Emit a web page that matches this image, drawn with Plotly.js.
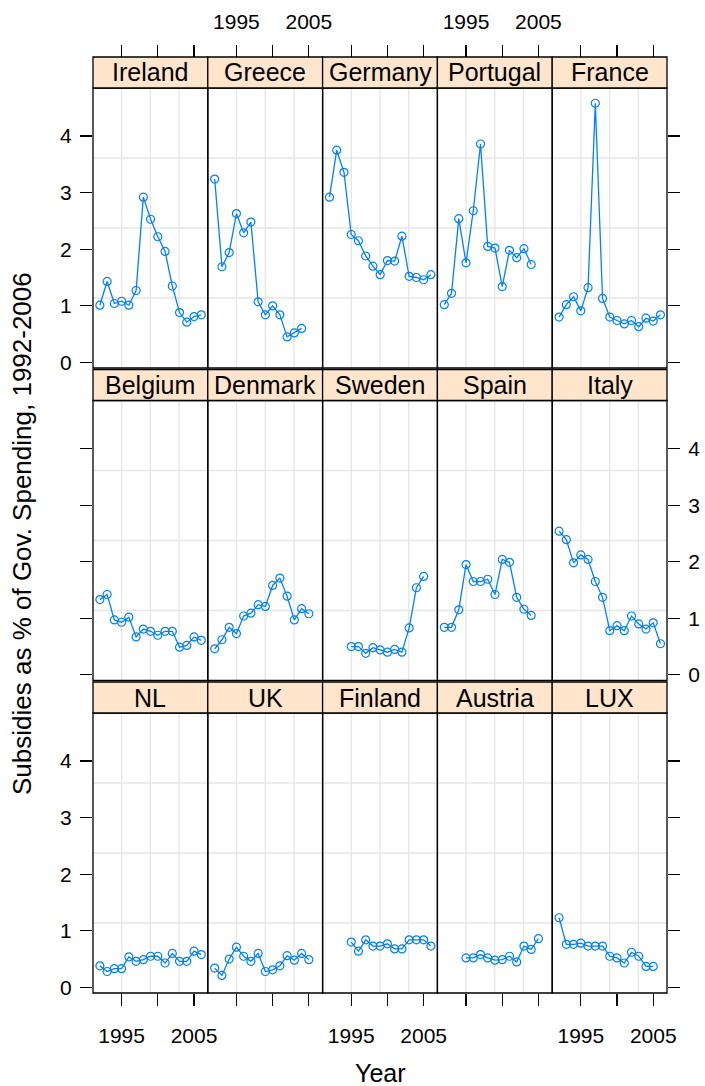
<!DOCTYPE html>
<html><head><meta charset="utf-8">
<script src="https://cdn.plot.ly/plotly-3.0.1.min.js"></script>
<style>html,body{margin:0;padding:0;background:#fff}#chart{width:705px;height:1086px}</style>
</head><body><div id="chart"></div>
<script>
// ---- data ----
const years = [1992,1993,1994,1995,1996,1997,1998,1999,2000,2001,2002,2003,2004,2005,2006];
const countries = ["Ireland","Greece","Germany","Portugal","France",
                   "Belgium","Denmark","Sweden","Spain","Italy",
                   "NL","UK","Finland","Austria","LUX"];
const ireland  = [1.01,1.43,1.04,1.08,1.01,1.27,2.92,2.53,2.22,1.96,1.35,0.88,0.71,0.81,0.84];
const greece   = [3.24,1.69,1.94,2.63,2.29,2.48,1.07,0.84,1.00,0.84,0.45,0.52,0.60,null,null];
const germany  = [2.92,3.75,3.36,2.26,2.15,1.88,1.70,1.55,1.80,1.79,2.23,1.52,1.50,1.46,1.55];
const portugal = [1.02,1.22,2.54,1.76,2.68,3.86,2.05,2.02,1.34,1.98,1.85,2.01,1.73,null,null];
const france   = [0.80,1.02,1.16,0.91,1.32,4.58,1.13,0.80,0.74,0.68,0.74,0.63,0.78,0.73,0.84];
const belgium  = [1.33,1.42,0.97,0.93,1.02,0.67,0.81,0.77,0.70,0.77,0.77,0.49,0.52,0.67,0.61];
const denmark  = [0.46,0.62,0.84,0.73,1.04,1.09,1.24,1.21,1.58,1.71,1.39,0.97,1.17,1.08,null];
const sweden   = [null,null,null,0.50,0.50,0.38,0.48,0.44,0.40,0.45,0.40,0.83,1.54,1.74,null];
const spain    = [0.84,0.84,1.15,1.95,1.65,1.65,1.69,1.42,2.04,1.99,1.37,1.16,1.05,null,null];
const italy    = [2.54,2.39,1.98,2.12,2.04,1.65,1.37,0.78,0.87,0.78,1.04,0.90,0.81,0.92,0.55];
const nl       = [0.38,0.28,0.33,0.33,0.54,0.46,0.49,0.55,0.55,0.43,0.60,0.46,0.46,0.64,0.58];
const uk       = [0.34,0.21,0.50,0.71,0.55,0.46,0.60,0.28,0.31,0.38,0.56,0.48,0.60,0.49,null];
const finland  = [null,null,null,0.80,0.64,0.84,0.73,0.73,0.77,0.68,0.68,0.84,0.84,0.84,0.73];
const austria  = [null,null,null,0.52,0.52,0.58,0.52,0.48,0.49,0.55,0.45,0.73,0.67,0.86,null];
const lux      = [1.23,0.76,0.76,0.78,0.73,0.73,0.73,0.55,0.52,0.43,0.62,0.55,0.37,0.37,null];
const xTickVals = [1995, 2000, 2005];
const xTickText = ["1995", "", "2005"];
const yTickVals = [0, 1, 2, 3, 4];
const yTickText = ["0", "1", "2", "3", "4"];
const xTitle = "Year";
const yTitle = "Subsidies as % of Gov. Spending, 1992-2006";

const series = [ireland, greece, germany, portugal, france,
                belgium, denmark, sweden, spain, italy,
                nl, uk, finland, austria, lux];

// ---- layout geometry ----
const W = 705, H = 1086;
const colLeft = 93, colW = 114.8;
const stripTops = [57, 369.5, 682], stripH = 31, panelH = 280;
const FONT = "Liberation Sans, Arial, sans-serif";
const lineCol = "#0080ff";
const xRange = [1991.05, 2006.9];
const yRange = [-0.1, 4.85];

const traces = [];
const layout = {
  width: W, height: H,
  margin: {l: 0, r: 0, t: 0, b: 0},
  paper_bgcolor: "#fff", plot_bgcolor: "rgba(0,0,0,0)",
  showlegend: false,
  font: {family: FONT, color: "#000"},
  shapes: [], annotations: []
};

for (let i = 0; i < 15; i++) {
  const r = Math.floor(i / 5), c = i % 5, k = i + 1;
  const xn = "x" + (k === 1 ? "" : k), yn = "y" + (k === 1 ? "" : k);
  const xa = "xaxis" + (k === 1 ? "" : k), ya = "yaxis" + (k === 1 ? "" : k);
  const pTop = stripTops[r] + stripH, pBot = pTop + panelH;
  const xd = [(colLeft + c * colW) / W, (colLeft + (c + 1) * colW) / W];
  const yd = [1 - pBot / H, 1 - pTop / H];

  traces.push({
    type: "scatter", mode: "lines+markers",
    x: years, y: series[i], xaxis: xn, yaxis: yn,
    name: countries[i], connectgaps: false,
    line: {color: lineCol, width: 1.3},
    marker: {symbol: "circle-open", size: 8, color: lineCol, line: {width: 1.2, color: lineCol}},
    hoverinfo: "skip"
  });

  const xax = {
    domain: xd, range: xRange, fixedrange: true,
    showgrid: false, zeroline: false, showline: false,
    tickmode: "array", tickvals: xTickVals, ticktext: xTickText,
    ticks: r === 1 ? "" : "outside", ticklen: 12, tickwidth: 1.3, tickcolor: "#000",
    showticklabels: (r === 2 && c % 2 === 0) || (r === 0 && c % 2 === 1),
    tickfont: {size: 21, family: FONT, color: "#000"},
    ticklabelstandoff: r === 0 ? 8 : 12
  };
  if (r === 0) { xax.anchor = "free"; xax.position = 1 - stripTops[0] / H; xax.side = "top"; }
  else { xax.anchor = yn; xax.side = "bottom"; }
  layout[xa] = xax;

  const yax = {
    domain: yd, range: yRange, anchor: xn, fixedrange: true,
    showgrid: false, zeroline: false, showline: false,
    tickmode: "array", tickvals: yTickVals, ticktext: yTickText,
    ticklen: 12, tickwidth: 1.3, tickcolor: "#000",
    tickfont: {size: 21, family: FONT, color: "#000"},
    ticklabelstandoff: 4
  };
  if (c === 0) { yax.side = "left"; yax.ticks = "outside"; yax.showticklabels = (r !== 1); }
  else if (c === 4) { yax.side = "right"; yax.ticks = "outside"; yax.showticklabels = (r === 1); }
  else { yax.ticks = ""; yax.showticklabels = false; }
  layout[ya] = yax;

  // grid (panel.grid h=3, v=3)
  [0.25, 0.5, 0.75].forEach(f => {
    layout.shapes.push({type: "line", layer: "below", xref: xn + " domain", yref: yn + " domain",
      x0: f, x1: f, y0: 0, y1: 1, line: {color: "#e6e6e6", width: 1.3}});
    layout.shapes.push({type: "line", layer: "below", xref: xn + " domain", yref: yn + " domain",
      x0: 0, x1: 1, y0: f, y1: f, line: {color: "#e6e6e6", width: 1.3}});
  });
  // panel border
  layout.shapes.push({type: "rect", layer: "above", xref: xn + " domain", yref: yn + " domain",
    x0: 0, x1: 1, y0: 0, y1: 1, line: {color: "#000", width: 1.3}, fillcolor: "rgba(0,0,0,0)"});
  // strip
  layout.shapes.push({type: "rect", layer: "above", xref: xn + " domain", yref: "paper",
    x0: 0, x1: 1, y0: 1 - pTop / H, y1: 1 - stripTops[r] / H,
    line: {color: "#000", width: 1.3}, fillcolor: "#ffe5cc"});
  layout.annotations.push({xref: xn + " domain", yref: "paper", x: 0.5,
    y: 1 - (stripTops[r] + stripH / 2) / H, text: countries[i], showarrow: false,
    xanchor: "center", yanchor: "middle", font: {size: 25, family: FONT, color: "#000"}});
}

layout.annotations.push({xref: "paper", yref: "paper", x: (colLeft + 2.5 * colW) / W, y: 1 - 1073 / H,
  text: xTitle, showarrow: false, xanchor: "center", yanchor: "middle",
  font: {size: 25, family: FONT, color: "#000"}});
layout.annotations.push({xref: "paper", yref: "paper", x: 22 / W, y: 1 - 534 / H,
  text: yTitle, showarrow: false, textangle: -90, xanchor: "center", yanchor: "middle",
  font: {size: 26, family: FONT, color: "#000"}});

Plotly.newPlot("chart", traces, layout, {staticPlot: true, displayModeBar: false});
</script></body></html>
